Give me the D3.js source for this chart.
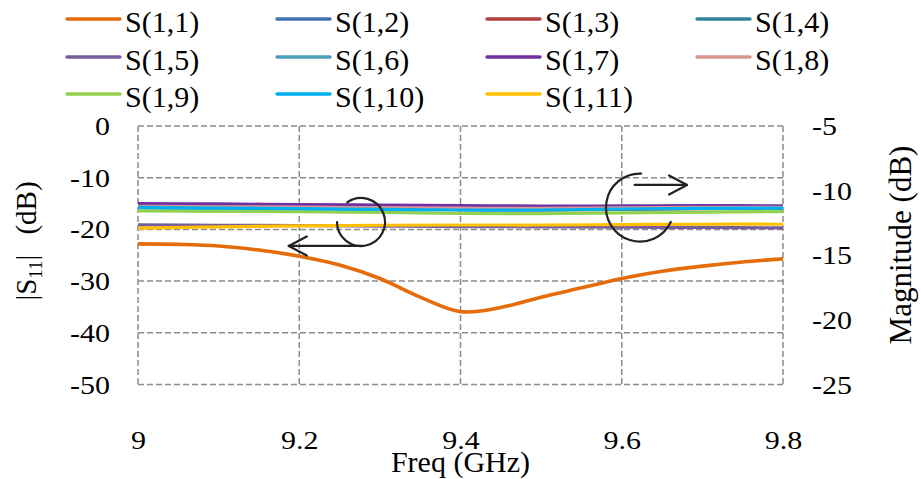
<!DOCTYPE html>
<html>
<head>
<meta charset="utf-8">
<script src="https://cdn.jsdelivr.net/npm/d3@7"></script>
<style>
  body { margin: 0; background: #fff; }
  svg { display: block; }
</style>
</head>
<body>
<svg id="chart" width="921" height="479"></svg>
<script>
// Frequency sample points (GHz)
const freqS11 = [9.00, 9.05, 9.10, 9.15, 9.20, 9.25, 9.30, 9.35, 9.40, 9.45, 9.50, 9.55, 9.60, 9.65, 9.70, 9.75, 9.80];
const freq = [9.0, 9.1, 9.2, 9.3, 9.4, 9.5, 9.6, 9.7, 9.8];

// |S11| in dB (left axis)
const s11 = [-22.8, -22.9, -23.2, -24.0, -25.2, -26.9, -29.5, -33.1, -35.9, -35.1, -33.1, -31.3, -29.5, -28.1, -27.1, -26.3, -25.7];

// Coupling magnitudes in dB (right axis)
const s12  = [-11.20, -11.22, -11.25, -11.28, -11.32, -11.35, -11.30, -11.28, -11.26];
const s13  = [-11.28, -11.30, -11.35, -11.40, -11.48, -11.50, -11.45, -11.40, -11.38];
const s14  = [-11.30, -11.32, -11.36, -11.40, -11.44, -11.45, -11.40, -11.36, -11.34];
const s15  = [-12.65, -12.68, -12.70, -12.74, -12.78, -12.80, -12.82, -12.85, -12.88];
const s16  = [-11.34, -11.36, -11.40, -11.43, -11.46, -11.48, -11.42, -11.38, -11.36];
const s17  = [-11.00, -11.03, -11.08, -11.12, -11.16, -11.20, -11.18, -11.16, -11.18];
const s18  = [-11.22, -11.25, -11.28, -11.32, -11.36, -11.38, -11.33, -11.30, -11.30];
const s19  = [-11.57, -11.60, -11.63, -11.68, -11.77, -11.78, -11.72, -11.67, -11.62];
const s110 = [-11.30, -11.35, -11.40, -11.45, -11.50, -11.50, -11.42, -11.37, -11.35];
const s111 = [-12.90, -12.80, -12.72, -12.68, -12.66, -12.66, -12.63, -12.60, -12.60];

const seriesNames = ["S(1,1)", "S(1,2)", "S(1,3)", "S(1,4)", "S(1,5)", "S(1,6)",
                     "S(1,7)", "S(1,8)", "S(1,9)", "S(1,10)", "S(1,11)"];
const seriesColors = ["#E46C0A", "#4472B4", "#B0413E", "#31849B", "#7A5C9E", "#4BA0B8",
                      "#7030A0", "#D99694", "#92D050", "#00B0F0", "#FFC000"];

const xTicks = [9, 9.2, 9.4, 9.6, 9.8];
const yLeftTicks = [0, -10, -20, -30, -40, -50];
const yRightTicks = [-5, -10, -15, -20, -25];

const rightSeries = [s12, s13, s14, s15, s16, s17, s18, s19, s110, s111];

const FONT = "'Liberation Serif', 'Times New Roman', Times, serif";
const svg = d3.select("#chart");

const x = d3.scaleLinear().domain([9, 9.8]).range([138, 783]);
const yL = d3.scaleLinear().domain([-50, 0]).range([384.5, 126]);
const yR = d3.scaleLinear().domain([-25, -5]).range([384.5, 126]);

const gridColor = "#8c8c8c";

// Grid: dashed lines at every tick, including the frame
const grid = svg.append("g");
grid.selectAll("line.v").data(xTicks).join("line")
  .attr("x1", d => x(d)).attr("x2", d => x(d))
  .attr("y1", yL(0)).attr("y2", yL(-50))
  .attr("stroke", gridColor).attr("stroke-width", 1.5).attr("stroke-dasharray", "6,3");
grid.selectAll("line.h").data(yLeftTicks).join("line")
  .attr("x1", x(9)).attr("x2", x(9.8))
  .attr("y1", d => yL(d)).attr("y2", d => yL(d))
  .attr("stroke", gridColor).attr("stroke-width", 1.5).attr("stroke-dasharray", "6,3");

// Axes (labels only)
const tickSize = 25;
const axB = svg.append("g").attr("transform", `translate(0,${yL(-50)})`)
  .call(d3.axisBottom(x).tickValues(xTicks).tickFormat(d => String(d)).tickSize(0));
const axL = svg.append("g").attr("transform", `translate(${x(9)},0)`)
  .call(d3.axisLeft(yL).tickValues(yLeftTicks).tickFormat(d => String(d)).tickSize(0).tickPadding(28));
const axR = svg.append("g").attr("transform", `translate(${x(9.8)},0)`)
  .call(d3.axisRight(yR).tickValues(yRightTicks).tickFormat(d => String(d)).tickSize(0).tickPadding(29));
[axB, axL, axR].forEach(a => {
  a.select(".domain").remove();
  a.attr("font-family", FONT).attr("font-size", tickSize);
  a.selectAll("text").attr("fill", "#000").attr("dy", "0.34em");
});
axB.selectAll("text").attr("y", 440 - yL(-50));

// Series lines
const lineL = d3.line().x((d, i) => x(freqS11[i])).y(d => yL(d)).curve(d3.curveCatmullRom.alpha(0.5));
const lineR = d3.line().x((d, i) => x(freq[i])).y(d => yR(d)).curve(d3.curveCatmullRom.alpha(0.5));

const plot = svg.append("g");
plot.append("path").datum(s11)
  .attr("d", lineL).attr("fill", "none")
  .attr("stroke", seriesColors[0]).attr("stroke-width", 3.6).attr("stroke-linejoin", "round");
rightSeries.forEach((s, k) => {
  plot.append("path").datum(s)
    .attr("d", lineR).attr("fill", "none")
    .attr("stroke", seriesColors[k + 1]).attr("stroke-width", 3.2).attr("stroke-linejoin", "round");
});

// Axis-ownership markers: circle + arrow
const ann = svg.append("g").attr("fill", "none").attr("stroke", "#222").attr("stroke-width", 2.2)
  .attr("stroke-linecap", "round").attr("stroke-linejoin", "round");
const deg = Math.PI / 180;

// left marker -> |S11| axis
{
  const cx = x(9.2766), cy = yL(-18.57), r = 24;
  const p = d3.path();
  p.moveTo(cx + r * Math.cos(235 * deg), cy + r * Math.sin(235 * deg));
  p.arc(cx, cy, r, 235 * deg, 540 * deg, false);
  ann.append("path").attr("d", p.toString());
  const ay = yL(-23.2), x0 = x(9.279), x1 = x(9.187);
  ann.append("line").attr("x1", x0).attr("x2", x1).attr("y1", ay).attr("y2", ay);
  ann.append("polyline").attr("points", `${x1 + 18},${ay - 9.5} ${x1},${ay} ${x1 + 18},${ay + 9.5}`);
}
// right marker -> Magnitude axis
{
  const cx = x(9.6226), cy = yR(-11.31), r = 34;
  const p = d3.path();
  p.moveTo(cx + r * Math.cos(272 * deg), cy + r * Math.sin(272 * deg));
  p.arc(cx, cy, r, 272 * deg, 25 * deg, true);
  ann.append("path").attr("d", p.toString());
  const ay = yR(-9.56), x0 = x(9.616), x1 = x(9.681);
  ann.append("line").attr("x1", x0).attr("x2", x1).attr("y1", ay).attr("y2", ay);
  ann.append("polyline").attr("points", `${x1 - 18},${ay - 9.5} ${x1},${ay} ${x1 - 18},${ay + 9.5}`);
}

// Axis titles
svg.append("text").attr("x", x(9.4)).attr("y", 472).attr("text-anchor", "middle")
  .attr("font-size", 30).text("Freq (GHz)");

const tl = svg.append("text").attr("transform", "translate(36,241) rotate(-90)")
  .attr("text-anchor", "middle").attr("font-size", 29);
tl.append("tspan").text("|S");
tl.append("tspan").attr("font-size", 19).attr("dy", 6).text("11");
tl.append("tspan").attr("dy", -6).text("|");
tl.append("tspan").attr("dx", 20).text("(dB)");

svg.append("text").attr("transform", "translate(911,245) rotate(-90)")
  .attr("text-anchor", "middle").attr("font-size", 31).text("Magnitude (dB)");

// Legend: 4 columns, row-major
const legX = [67, 277, 487, 697];
const legY = [19, 57, 94];
const leg = svg.append("g");
seriesNames.forEach((name, i) => {
  const col = i % 4, row = Math.floor(i / 4);
  const g = leg.append("g").attr("transform", `translate(${legX[col]},${legY[row]})`);
  g.append("line").attr("x1", 0).attr("x2", 53).attr("y1", 0).attr("y2", 0)
    .attr("stroke", seriesColors[i]).attr("stroke-width", 3.4).attr("stroke-linecap", "round");
  g.append("text").attr("x", 58).attr("y", 13).attr("font-size", 30).text(name);
});

// Serif face everywhere; tick labels are set slightly wide
svg.selectAll("text").style("font-family", FONT).attr("fill", "#000");
[axB, axL, axR].forEach(a => {
  a.selectAll("text").each(function () {
    const w = this.getComputedTextLength();
    d3.select(this).attr("textLength", w * 1.2).attr("lengthAdjust", "spacingAndGlyphs");
  });
});
</script>
</body>
</html>
